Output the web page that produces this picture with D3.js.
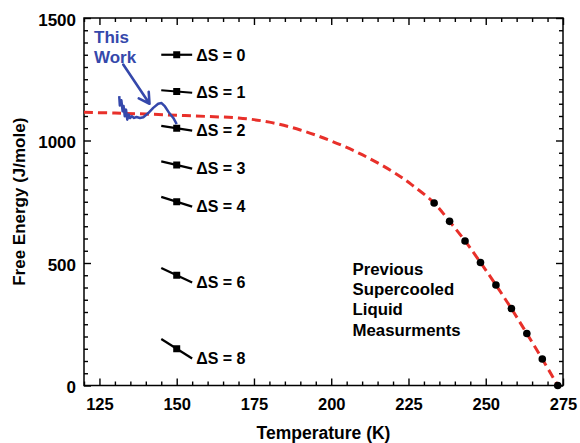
<!DOCTYPE html>
<html>
<head>
<meta charset="utf-8">
<script src="https://cdn.jsdelivr.net/npm/d3@7"></script>
<style>
  html, body { margin: 0; padding: 0; background: #fff; }
  svg { display: block; font-family: "Liberation Sans", Arial, Helvetica, sans-serif; font-weight: bold; }
</style>
</head>
<body>
<svg id="chart" width="580" height="443"></svg>
<script>
// Axis ticks
const xMajorTicks = [125, 150, 175, 200, 225, 250, 275];
const yMajorTicks = [0, 500, 1000, 1500];

// Free energy curve fitted to earlier supercooled-liquid data (dashed red)
const fitT = [120, 130, 140, 150, 160, 170, 180, 190, 200, 210, 220, 226, 233.3, 238.3, 243.3, 248.3, 253.3, 258.3, 263.3, 268.3, 273.3];
const fitG = [1115, 1112, 1108, 1103, 1098, 1092, 1075, 1043, 998, 942, 872, 820, 745, 670, 590, 502, 410, 314, 212, 108, 0];

// Previous supercooled liquid measurements (black dots)
const prevT = [233.3, 238.3, 243.3, 248.3, 253.3, 258.3, 263.3, 268.3, 273.3];
const prevG = [745, 670, 590, 502, 410, 314, 212, 108, 0];

// This work (blue trace)
const workT = [131.4, 131.6, 132.1, 132.5, 132.8, 133.2, 133.6, 134.0, 134.5, 134.9, 135.5, 136.2, 137.0, 138.1, 139.2, 140.8, 142.4, 144.0, 145.1, 146.2, 147.6, 148.9, 150.0];
const workG = [1181, 1143, 1164, 1119, 1141, 1099, 1126, 1085, 1106, 1092, 1099, 1092, 1096, 1092, 1095, 1112, 1133, 1150, 1153, 1139, 1112, 1092, 1067];

// Reference slopes: G(T) = G150 - dS * (T - 150)
const dSValues = [0, 1, 2, 3, 4, 6, 8];
const dSG150 = [1350, 1200, 1050, 900, 750, 450, 150];
const dSRangeT = [145, 155];

// Annotation arrow from the "This Work" label to the trace
const arrowT = [132.7, 141.2];
const arrowG = [1310, 1150];

const svg = d3.select("#chart");
const plotLeft = 84, plotRight = 563, plotTop = 18, plotBottom = 385.5;

const x = d3.scaleLinear().domain([120, 275]).range([plotLeft, plotRight]);
const y = d3.scaleLinear().domain([0, 1500]).range([plotBottom, plotTop]);

const blue = "#3548ab";
const red = "#e8302a";

// Minor ticks
const xMinor = d3.range(120, 276, 5).filter(v => !xMajorTicks.includes(v));
const yMinor = d3.range(0, 1501, 50).filter(v => !yMajorTicks.includes(v));

function styleAxis(g) {
  g.select(".domain").remove();
  g.selectAll(".tick line").attr("stroke", "#000").attr("stroke-width", 1.4);
}

// bottom
svg.append("g").attr("transform", `translate(0,${plotBottom})`)
  .call(d3.axisBottom(x).tickValues(xMinor).tickSize(-4).tickFormat(""))
  .call(styleAxis);
svg.append("g").attr("transform", `translate(0,${plotBottom})`)
  .call(d3.axisBottom(x).tickValues(xMajorTicks).tickSize(-7).tickPadding(12.5).tickFormat(d3.format("d")))
  .call(styleAxis)
  .call(g => g.selectAll("text").attr("font-size", 16.5).attr("fill", "#000"))
  .attr("font-family", null);
// top
svg.append("g").attr("transform", `translate(0,${plotTop})`)
  .call(d3.axisTop(x).tickValues(xMinor).tickSize(-4).tickFormat(""))
  .call(styleAxis);
svg.append("g").attr("transform", `translate(0,${plotTop})`)
  .call(d3.axisTop(x).tickValues(xMajorTicks).tickSize(-7).tickFormat(""))
  .call(styleAxis);
// left
svg.append("g").attr("transform", `translate(${plotLeft},0)`)
  .call(d3.axisLeft(y).tickValues(yMinor).tickSize(-4).tickFormat(""))
  .call(styleAxis);
svg.append("g").attr("transform", `translate(${plotLeft},0)`)
  .call(d3.axisLeft(y).tickValues(yMajorTicks).tickSize(-7).tickPadding(8).tickFormat(d3.format("d")))
  .call(styleAxis)
  .call(g => g.selectAll("text").attr("font-size", 17).attr("fill", "#000").attr("dy", "0.42em"))
  .attr("font-family", null);
// right
svg.append("g").attr("transform", `translate(${plotRight},0)`)
  .call(d3.axisRight(y).tickValues(yMinor).tickSize(-4).tickFormat(""))
  .call(styleAxis);
svg.append("g").attr("transform", `translate(${plotRight},0)`)
  .call(d3.axisRight(y).tickValues(yMajorTicks).tickSize(-7).tickFormat(""))
  .call(styleAxis);

// Frame
svg.append("rect")
  .attr("x", plotLeft).attr("y", plotTop)
  .attr("width", plotRight - plotLeft).attr("height", plotBottom - plotTop)
  .attr("fill", "none").attr("stroke", "#000").attr("stroke-width", 1.5);

// Axis titles
svg.append("text")
  .attr("x", (plotLeft + plotRight) / 2).attr("y", 439)
  .attr("text-anchor", "middle").attr("font-size", 17.5)
  .text("Temperature (K)");
svg.append("text")
  .attr("transform", `translate(25,${(plotTop + plotBottom) / 2}) rotate(-90)`)
  .attr("text-anchor", "middle").attr("font-size", 17)
  .text("Free Energy (J/mole)");

// Clip for the fitted curve
svg.append("clipPath").attr("id", "plot-clip")
  .append("rect").attr("x", plotLeft).attr("y", plotTop - 5)
  .attr("width", plotRight - plotLeft).attr("height", plotBottom - plotTop + 10);

// Dashed fit
const fitData = fitT.map((t, i) => [t, fitG[i]]);
svg.append("path")
  .datum(fitData)
  .attr("clip-path", "url(#plot-clip)")
  .attr("fill", "none").attr("stroke", red).attr("stroke-width", 3)
  .attr("stroke-dasharray", "9,5")
  .attr("d", d3.line().x(d => x(d[0])).y(d => y(d[1])).curve(d3.curveCatmullRom.alpha(0.5)));

// Previous measurements
svg.append("g").selectAll("circle")
  .data(prevT.map((t, i) => [t, prevG[i]]))
  .join("circle")
  .attr("cx", d => x(d[0])).attr("cy", d => y(d[1]))
  .attr("r", 3.8).attr("fill", "#000");

// Entropy reference segments
const seg = svg.append("g");
dSValues.forEach((s, i) => {
  const g150 = dSG150[i];
  const pts = dSRangeT.map(t => [t, g150 - s * (t - 150)]);
  seg.append("line")
    .attr("x1", x(pts[0][0])).attr("y1", y(pts[0][1]))
    .attr("x2", x(pts[1][0])).attr("y2", y(pts[1][1]))
    .attr("stroke", "#000").attr("stroke-width", 2.2);
  seg.append("rect")
    .attr("x", x(150) - 3.5).attr("y", y(g150) - 3.5)
    .attr("width", 7).attr("height", 7).attr("fill", "#000");
  seg.append("text")
    .attr("x", x(pts[1][0]) + 4).attr("y", y(pts[1][1]))
    .attr("dy", "0.36em").attr("font-size", 16)
    .text(`ΔS = ${s}`);
});

// This work trace
svg.append("path")
  .datum(workT.map((t, i) => [t, workG[i]]))
  .attr("fill", "none").attr("stroke", blue).attr("stroke-width", 2.5)
  .attr("stroke-linejoin", "round")
  .attr("d", d3.line().x(d => x(d[0])).y(d => y(d[1])));

// Label and arrow
const lbl = svg.append("text").attr("fill", blue).attr("font-size", 17);
lbl.append("tspan").attr("x", 94).attr("y", 43.3).text("This");
lbl.append("tspan").attr("x", 94).attr("y", 63.3).text("Work");

const ax0 = x(arrowT[0]), ay0 = y(arrowG[0]);
const ax1 = x(arrowT[1]), ay1 = y(arrowG[1]);
const ang = Math.atan2(ay0 - ay1, ax0 - ax1);
const headLen = 12, spread = Math.PI / 6;
const wing = a => [ax1 + headLen * Math.cos(a), ay1 + headLen * Math.sin(a)];
const w1 = wing(ang + spread), w2 = wing(ang - spread);
svg.append("path")
  .attr("fill", "none").attr("stroke", blue).attr("stroke-width", 2.6)
  .attr("stroke-linecap", "round").attr("stroke-linejoin", "round")
  .attr("d", `M${ax0},${ay0}L${ax1},${ay1}M${w1[0]},${w1[1]}L${ax1},${ay1}L${w2[0]},${w2[1]}`);

// Previous measurements label
const prevLabel = ["Previous", "Supercooled", "Liquid", "Measurments"];
const pBase = [275, 295.3, 315.3, 336];
const pl = svg.append("text").attr("font-size", 16.8).attr("fill", "#000");
prevLabel.forEach((s, i) => pl.append("tspan").attr("x", 352.5).attr("y", pBase[i]).text(s));
</script>
</body>
</html>
